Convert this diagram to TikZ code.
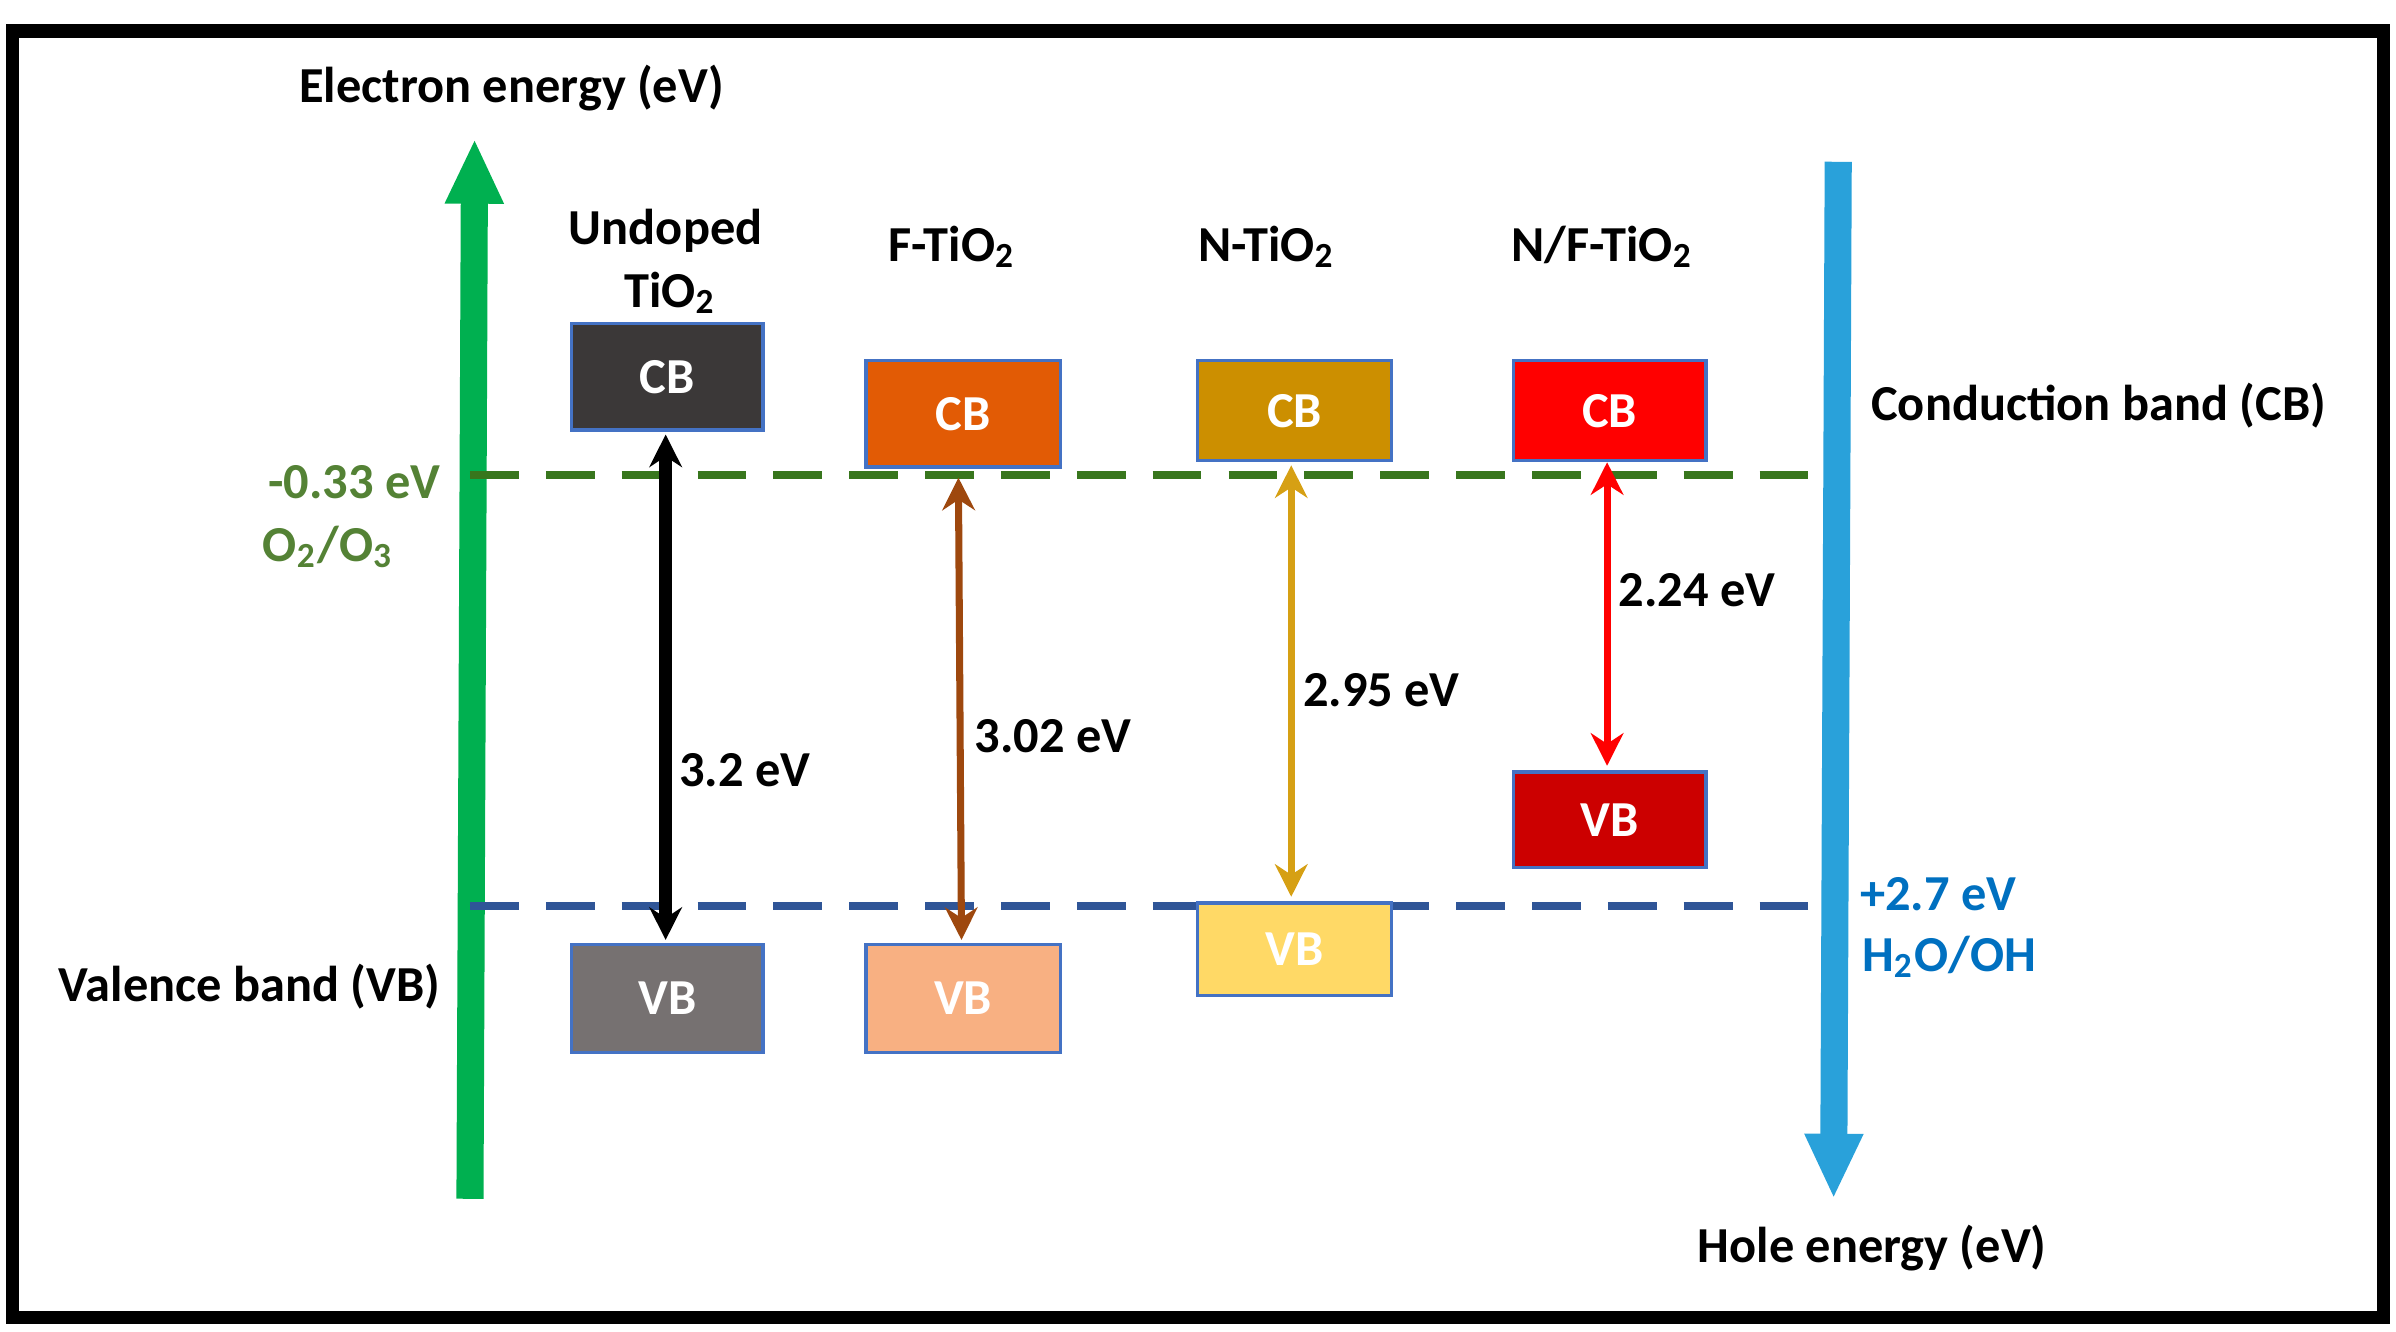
\documentclass[tikz,border=0pt]{standalone}
\usepackage{fontspec}
\setmainfont{Carlito}
\usetikzlibrary{arrows.meta}
\definecolor{egreen}{RGB}{0,176,80}
\definecolor{hblue}{RGB}{41,161,218}
\definecolor{dgreen}{RGB}{56,118,29}
\definecolor{lgreen}{RGB}{84,130,53}
\definecolor{dblue}{RGB}{47,85,151}
\definecolor{tblue}{RGB}{0,112,192}
\definecolor{bord}{RGB}{68,114,196}
\definecolor{c1}{RGB}{59,56,56}\definecolor{v1}{RGB}{118,113,113}
\definecolor{c2}{RGB}{226,91,5}\definecolor{v2}{RGB}{248,176,130}
\definecolor{c3}{RGB}{204,143,0}\definecolor{v3}{RGB}{255,217,102}
\definecolor{c4}{RGB}{255,0,0}\definecolor{v4}{RGB}{204,0,0}
\definecolor{brown}{RGB}{158,72,14}\definecolor{gold}{RGB}{214,160,20}
\begin{document}
\begin{tikzpicture}[x=0.01cm,y=-0.01cm,
 lab/.style={font=\fontsize{9.3}{11}\selectfont\bfseries},
 band/.style={draw=bord,line width=0.6pt,text=white,font=\fontsize{9.3}{11}\selectfont\bfseries,inner sep=0pt,anchor=north west},
 gap/.style={line width=#1,{Stealth[length=6pt,width=6pt]}-{Stealth[length=6pt,width=6pt]}}]
\useasboundingbox (0,0) rectangle (1555,864);
\draw[line width=2.5pt] (8,20) rectangle (1547,855);
% axes
\coordinate (g0) at (305,778); \coordinate (g1) at (308,90);
\draw[egreen,line width=5pt,-{Triangle[length=12pt,width=10pt]}] (g0) -- (g1);
\coordinate (b0) at (1193,105); \coordinate (b1) at (1190,778);
\draw[hblue,line width=5pt,-{Triangle[length=12pt,width=10pt]}] (b0) -- (b1);
\node[lab] (el) at (332,57) {Electron energy (eV)};
\node[lab] (he) at (1215,810) {Hole energy (eV)};
\node[lab] (cbl) at (1362,263) {Conduction band (CB)};
\node[lab] (vbl) at (162,640) {Valence band (VB)};
% dashed levels
\coordinate (d1a) at (305,308); \coordinate (d1b) at (1185,308);
\draw[dgreen,line width=1.5pt,dash pattern=on 9pt off 5pt] (d1a) -- (d1b);
\coordinate (d2a) at (305,588); \coordinate (d2b) at (1185,588);
\draw[dblue,line width=1.5pt,dash pattern=on 9pt off 5pt] (d2a) -- (d2b);
\node[lab,text=lgreen] (ox1) at (230,313) {-0.33 eV};
\node[lab,text=lgreen] (ox2) at (213,355) {O\textsubscript{2}/O\textsubscript{3}};
\node[lab,text=tblue] (hw1) at (1258,580) {+2.7 eV};
\node[lab,text=tblue] (hw2) at (1265,621) {H\textsubscript{2}O/OH};
% titles
\node[lab] (t1a) at (432,150) {Undoped};
\node[lab] (t1b) at (435,190) {TiO\textsubscript{2}};
\node[lab] (t2) at (618,160) {F-TiO\textsubscript{2}};
\node[lab] (t3) at (822,160) {N-TiO\textsubscript{2}};
\node[lab] (t4) at (1040,160) {N/F-TiO\textsubscript{2}};
% bands
\node[band,fill=c1,minimum width=1.24cm,minimum height=0.69cm] (cb1) at (370,209) {CB};
\node[band,fill=v1,minimum width=1.24cm,minimum height=0.70cm] (vb1) at (370,612) {VB};
\node[band,fill=c2,minimum width=1.26cm,minimum height=0.69cm] (cb2) at (561,233) {CB};
\node[band,fill=v2,minimum width=1.26cm,minimum height=0.70cm] (vb2) at (561,612) {VB};
\node[band,fill=c3,minimum width=1.26cm,minimum height=0.65cm] (cb3) at (776,233) {CB};
\node[band,fill=v3,minimum width=1.26cm,minimum height=0.60cm] (vb3) at (776,585) {VB};
\node[band,fill=c4,minimum width=1.25cm,minimum height=0.65cm] (cb4) at (981,233) {CB};
\node[band,fill=v4,minimum width=1.25cm,minimum height=0.62cm] (vb4) at (981,500) {VB};
% gaps
\coordinate (a1) at (432,282); \coordinate (a2) at (432,610);
\draw[gap=2.5pt] (a1) -- (a2);
\node[lab,anchor=west,inner sep=0pt] (g1l) at (440,500) {3.2 eV};
\coordinate (f1) at (622,310); \coordinate (f2) at (624,610);
\draw[gap=1.3pt,brown] (f1) -- (f2);
\node[lab,anchor=west,inner sep=0pt] (g2l) at (632,478) {3.02 eV};
\coordinate (n1) at (838,302); \coordinate (n2) at (838,582);
\draw[gap=1.3pt,gold] (n1) -- (n2);
\node[lab,anchor=west,inner sep=0pt] (g3l) at (845,448) {2.95 eV};
\coordinate (r1) at (1043,300); \coordinate (r2) at (1043,497);
\draw[gap=1.3pt,red] (r1) -- (r2);
\node[lab,anchor=west,inner sep=0pt] (g4l) at (1050,383) {2.24 eV};
\end{tikzpicture}
\end{document}
